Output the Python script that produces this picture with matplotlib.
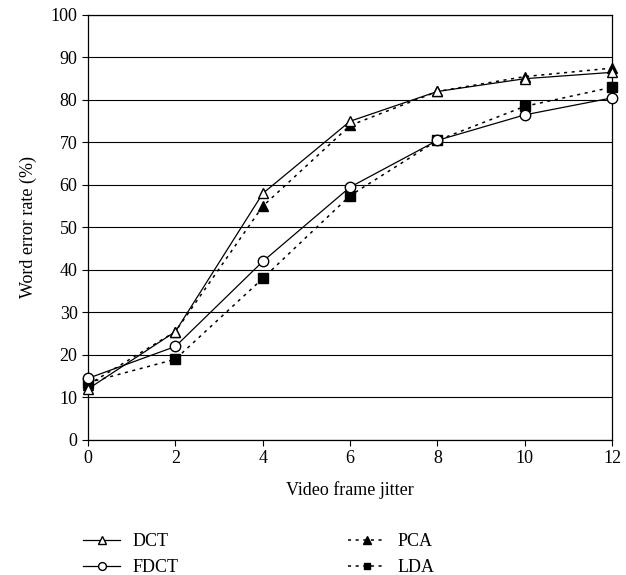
import matplotlib
matplotlib.use("Agg")
import matplotlib.pyplot as plt

plt.rcParams['font.family'] = ['Liberation Serif', 'DejaVu Serif']

jitter = [0, 2, 4, 6, 8, 10, 12]
dct = [12, 25.5, 58, 75, 82, 85, 86.5]
fdct = [14.5, 22, 42, 59.5, 70.5, 76.5, 80.5]
pca = [13, 25.5, 55, 74, 82, 85.5, 87.5]
lda = [13.5, 19, 38, 57.5, 70.5, 78.5, 83]

fig = plt.figure(figsize=(6.26, 5.75), dpi=100)
ax = fig.add_axes([0.1406, 0.2348, 0.8374, 0.7392])

ax.set_axisbelow(True)
ax.grid(axis='y', color='black', linewidth=0.8)

dots = (0, (2, 3))
pca_line, = ax.plot(jitter, pca, color='black', linestyle=dots, linewidth=1.1, marker='^',
                    markersize=7.5, markerfacecolor='black', label='PCA', zorder=3, clip_on=False)
lda_line, = ax.plot(jitter, lda, color='black', linestyle=dots, linewidth=1.1, marker='s',
                    markersize=6.5, markerfacecolor='black', label='LDA', zorder=3, clip_on=False)
dct_line, = ax.plot(jitter, dct, color='black', linestyle='-', linewidth=0.9, marker='^',
                    markersize=7.5, markerfacecolor='white', label='DCT', zorder=4, clip_on=False)
fdct_line, = ax.plot(jitter, fdct, color='black', linestyle='-', linewidth=0.9, marker='o',
                     markersize=7.5, markerfacecolor='white', label='FDCT', zorder=4, clip_on=False)

ax.set_xlim(0, 12)
ax.set_ylim(0, 100)
ax.set_xticks(jitter)
ax.set_yticks(range(0, 101, 10))
ax.tick_params(labelsize=13, direction='out', length=4)
for s in ax.spines.values():
    s.set_linewidth(0.9)
ax.set_xlabel('Video frame jitter', fontsize=13, labelpad=10)
ax.set_ylabel('Word error rate (%)', fontsize=13, labelpad=10)

leg_kw = dict(loc='center left', frameon=False, fontsize=13, handlelength=2.05,
              labelspacing=0.5, handletextpad=0.7, borderpad=0, borderaxespad=0,
              markerscale=0.75)
fig.legend([dct_line, fdct_line], ['DCT', 'FDCT'], bbox_to_anchor=(0.1326, 0.035), **leg_kw)
fig.legend([pca_line, lda_line], ['PCA', 'LDA'], bbox_to_anchor=(0.556, 0.035), **leg_kw)

fig.savefig('out.png', dpi=100)
